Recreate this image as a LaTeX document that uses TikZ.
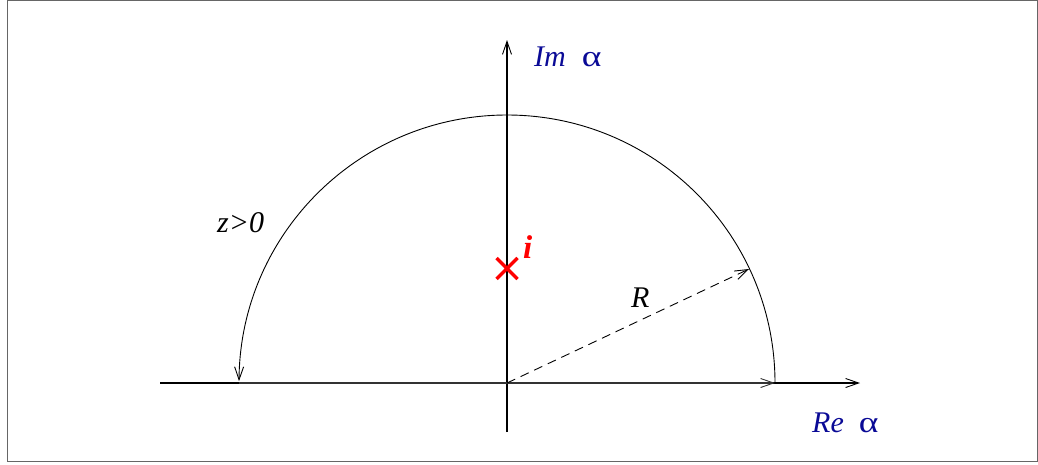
\documentclass[tikz,border=0pt]{standalone}
\usepackage{fontspec}
\setmainfont{Liberation Serif}
\usetikzlibrary{arrows.meta}
\definecolor{lblblue}{RGB}{10,10,150}
\tikzset{
  barb/.style={-{Straight Barb[length=13pt,width=9pt,line width=0.9pt]}},
  axisline/.style={line width=1.1pt, black},
  lbl/.style={font=\fontsize{30}{32}\selectfont\itshape, inner sep=0pt, anchor=base west},
  axlbl/.style={font=\fontsize{30}{32}\selectfont, text=lblblue, inner sep=0pt, anchor=base west},
}
\newcommand{\bigalpha}{\scalebox{1.25}[1]{α}}
\begin{document}
\begin{tikzpicture}[x=1pt,y=-1pt]
\useasboundingbox (0,0) rectangle (1038,464);
\draw[line width=1.4pt, gray!80!black] (7.5,0.7) rectangle (1037.3,461.3);
% coordinates
\coordinate (O) at (507,383);
\coordinate (xl) at (160,383);
\coordinate (xr) at (860,383);
\coordinate (yb) at (507,432);
\coordinate (yt) at (507,40);
\coordinate (A) at (775,383);
\coordinate (B) at (239,383);
\coordinate (Rt) at (749,269);
% axes
\draw[axisline, barb] (xl) -- (xr);
\draw[axisline, barb] (yb) -- (yt);
% contour along real axis
\draw[line width=2pt, black!80, barb] (B) -- (A);
% semicircle
\draw[line width=0.9pt, barb] (A) arc[start angle=0, end angle=-179.6, radius=268];
% radius
\draw[line width=0.9pt, dash pattern=on 9pt off 6pt, barb] (O) -- (Rt);
% pole
\node[inner sep=0pt, minimum size=0pt] (pole) at (507,268.5) {};
\draw[red, line width=3.5pt] (496.5,258) -- (517.5,279) (496.5,279) -- (517.5,258);
\node[font=\fontsize{33}{35}\selectfont\bfseries\itshape, text=red, inner sep=0pt, anchor=base west] (ilbl) at (523,258) {i};
% labels
\node[lbl] (zlbl) at (217,232) {z>0};
\node[lbl] (Rlbl) at (631,307) {R};
\node[axlbl] (im) at (534,66) {\textit{Im}\hspace{16pt}\bigalpha};
\node[axlbl] (re) at (812,432) {\textit{Re}\hspace{15pt}\bigalpha};
\end{tikzpicture}
\end{document}
